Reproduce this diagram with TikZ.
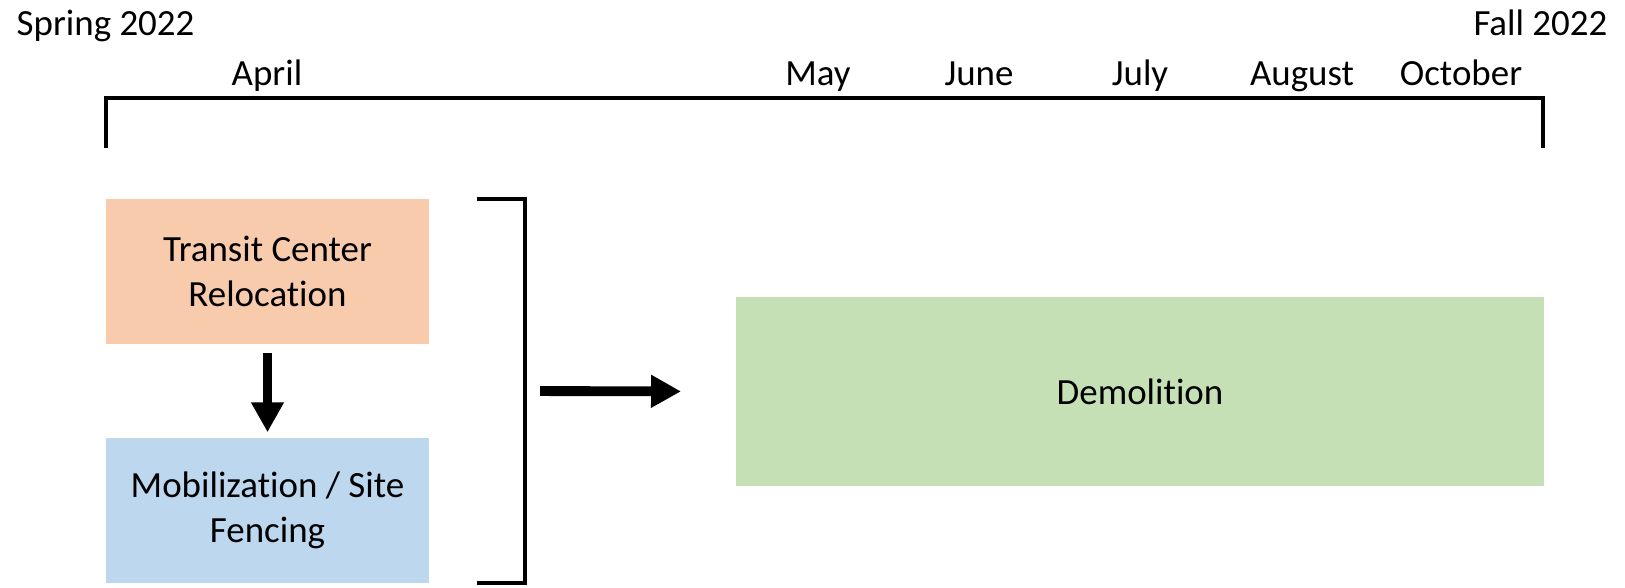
\documentclass[tikz,border=0pt]{standalone}
\usepackage{fontspec}
\setmainfont{Carlito}[Ligatures=NoCommon]
\usetikzlibrary{arrows.meta}
\definecolor{relocOrange}{HTML}{F8CBAD}
\definecolor{mobilBlue}{HTML}{BDD7EE}
\definecolor{demoGreen}{HTML}{C5E0B4}
\tikzset{
	phasebox/.style={minimum width=3.23cm, minimum height=1.45cm, align=center, inner sep=0pt},
	timelabel/.style={inner sep=0pt},
	bracketline/.style={line width=1pt},
	bigarrow/.style={line width=2.8pt, -{Triangle[width=0.31cm,length=0.3cm]}}
}
\begin{document}
\begin{tikzpicture}[x=0.01cm,y=-0.01cm,font=\fontsize{10.5}{12.8}\selectfont]
		\useasboundingbox (0,0) rectangle (1625,587);
		\pgfmathsetmacro{\yTop}{98};
		\pgfmathsetmacro{\yTick}{148};
		\pgfmathsetmacro{\yMonth}{85};
		\pgfmathsetmacro{\ySeason}{35};
		\node[timelabel, anchor=base west] (spring) at (16,\ySeason) {Spring 2022};
		\node[timelabel, anchor=base east] (fall) at (1608,\ySeason) {Fall 2022};
		\foreach \m/\x in {April/267,May/818,June/979,July/1140,August/1302,October/1461}
			\node[timelabel, anchor=base] (\m) at (\x,\yMonth) {\m};
		\draw[bracketline] (106,\yTick) -- (106,\yTop) -- (1543,\yTop) -- (1543,\yTick);
		\node[phasebox, fill=relocOrange] (reloc) at (267.5,271.5) {Transit Center\\Relocation};
		\node[phasebox, fill=mobilBlue] (mobil) at (267.5,510.5) {Mobilization / Site\\Fencing};
		\node[phasebox, fill=demoGreen, minimum width=8.08cm, minimum height=1.89cm] (demo) at (1140,391.5) {Demolition};
		\draw[bigarrow, shorten <=0.08cm, shorten >=0.05cm] (reloc.south) -- (mobil.north);
		\draw[bracketline] (477,199) -- (525,199) -- (525,583) -- (477,583);
		\coordinate (brk) at (525,391);
		\draw[bigarrow, shorten <=0.15cm, shorten >=0.54cm] (brk) -- (demo.west);
	\end{tikzpicture}
\end{document}
